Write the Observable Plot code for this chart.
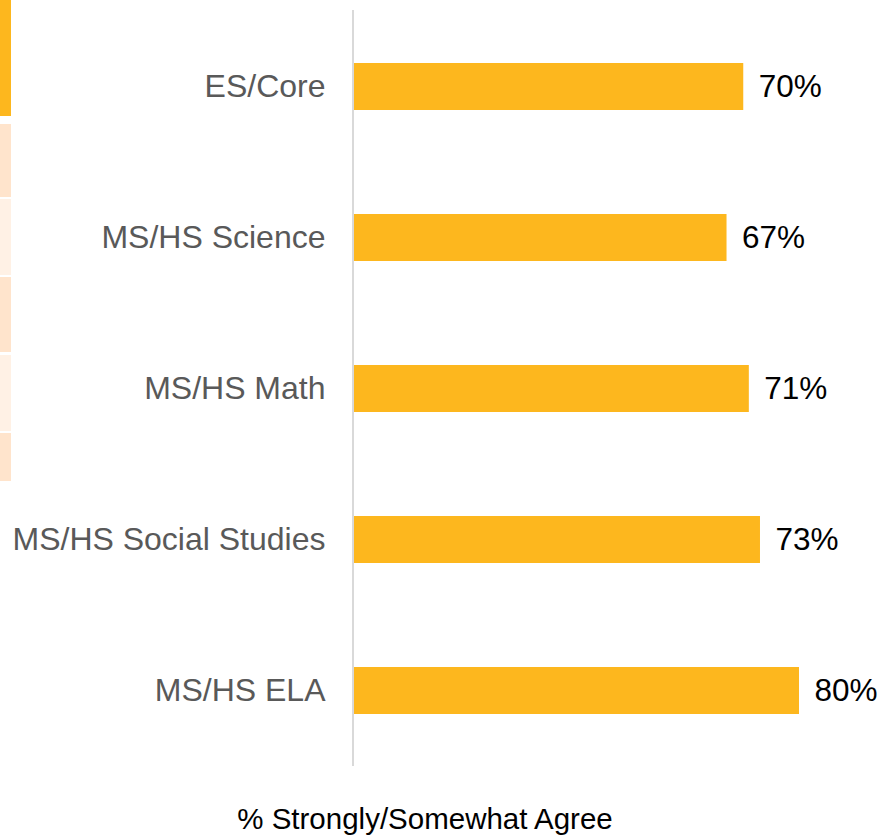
<!DOCTYPE html>
<html>
<head>
<meta charset="utf-8">
<script src="https://cdn.jsdelivr.net/npm/d3@7"></script>
<script src="https://cdn.jsdelivr.net/npm/@observablehq/plot@0.6"></script>
<style>
  html, body { margin: 0; padding: 0; background: #fff; }
  #wrap { position: relative; width: 881px; height: 835px; font-family: "Liberation Sans", Arial, sans-serif; }
  .tab { position: absolute; left: 0; width: 11px; }
  #caption { font-size: 29.5px; line-height: 32px; color: #000; text-align: center; width: 881px; padding-right: 31px; box-sizing: border-box; margin-top: 13px; }
</style>
</head>
<body>
<div id="wrap">
  <div id="chart"></div>
  <div id="caption">% Strongly/Somewhat Agree</div>
  <div class="tab" style="top:0;height:116px;background:#FDB71E"></div>
  <div class="tab" style="top:124px;height:73px;background:#FFE4CC"></div>
  <div class="tab" style="top:199px;height:76px;background:#FFF1E5"></div>
  <div class="tab" style="top:277px;height:75px;background:#FFE4CC"></div>
  <div class="tab" style="top:355px;height:76px;background:#FFF1E5"></div>
  <div class="tab" style="top:433px;height:48px;background:#FFE4CC"></div>
</div>
<script>
const categories = ["ES/Core", "MS/HS Science", "MS/HS Math", "MS/HS Social Studies", "MS/HS ELA"];
const values = [70, 67, 71, 73, 80];

const data = categories.map((c, i) => ({category: c, value: values[i]}));

const chart = Plot.plot({
  width: 881,
  height: 790,
  marginTop: 10,
  marginBottom: 24,
  marginLeft: 353,
  marginRight: 82,
  style: {fontFamily: "'Liberation Sans', Arial, sans-serif", fontSize: "31px", background: "transparent"},
  x: {domain: [0, 80], axis: null},
  y: {domain: categories, paddingInner: 0.69, paddingOuter: 0.345, label: null},
  marks: [
    Plot.ruleX([0], {stroke: "#D9D9D9", strokeWidth: 2, dx: -0.5}),
    Plot.barX(data, {x: "value", y: "category", fill: "#FDB71E", insetLeft: 1}),
    Plot.text(data, {x: "value", y: "category", text: d => d.value + "%", textAnchor: "start", dx: 15, fontSize: 31.5, fill: "#000"}),
    Plot.axisY({tickSize: 0, tickPadding: 28, fontSize: 32, fill: "#595959", label: null})
  ]
});
document.getElementById("chart").appendChild(chart);
</script>
</body>
</html>
